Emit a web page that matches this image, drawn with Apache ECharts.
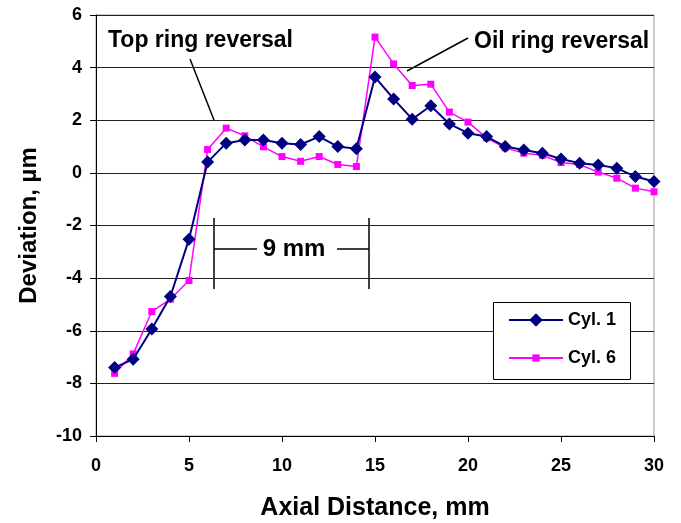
<!DOCTYPE html>
<html>
<head>
<meta charset="utf-8">
<script src="https://cdn.jsdelivr.net/npm/echarts@6/dist/echarts.min.js"></script>
<style>html,body{margin:0;padding:0;background:#fff;}#c{width:681px;height:523px;}</style>
</head>
<body>
<div id="c"></div>
<script>
var distance = [1,2,3,4,5,6,7,8,9,10,11,12,13,14,15,16,17,18,19,20,21,22,23,24,25,26,27,28,29,30];
var cyl1 = [-7.40,-7.08,-5.93,-4.70,-2.52,0.41,1.13,1.25,1.25,1.13,1.08,1.38,1.00,0.92,3.64,2.81,2.04,2.55,1.86,1.51,1.38,1.00,0.87,0.75,0.53,0.37,0.30,0.18,-0.14,-0.33];
var cyl6 = [-7.62,-6.88,-5.27,-4.80,-4.09,0.89,1.70,1.41,0.99,0.62,0.44,0.62,0.32,0.24,5.16,4.14,3.32,3.37,2.31,1.93,1.33,0.95,0.75,0.67,0.39,0.32,0.03,-0.20,-0.58,-0.72];
var seriesNames = ['Cyl. 1','Cyl. 6'];
var xTitle = 'Axial Distance, mm';
var yTitle = 'Deviation, \u00b5m';

var font = '"Liberation Sans", Arial, sans-serif';
function pairs(ys){ return distance.map(function(x,i){ return [x, ys[i]]; }); }
var legendText = {fontFamily:font, fontWeight:'bold', fontSize:18, color:'#000'};

var chart = echarts.init(document.getElementById('c'), null, {renderer:'canvas'});
chart.setOption({
  animation:false,
  backgroundColor:'#fff',
  grid:{left:96, right:27, top:15, bottom:87, show:true, borderColor:'#999', borderWidth:1,
        containLabel:false, outerBoundsMode:'none'},
  xAxis:{
    type:'value', min:0, max:30, interval:5,
    name:xTitle, nameLocation:'middle', nameGap:60,
    nameTextStyle:{fontFamily:font, fontWeight:'bold', fontSize:25, color:'#000'},
    axisLine:{show:true, onZero:false, lineStyle:{color:'#000', width:1}},
    axisTick:{show:true, inside:false, length:6, lineStyle:{color:'#000'}},
    axisLabel:{fontFamily:font, fontWeight:'bold', fontSize:18, color:'#000', margin:21},
    splitLine:{show:false}
  },
  yAxis:{
    type:'value', min:-10, max:6, interval:2,
    name:yTitle, nameLocation:'middle', nameGap:55, nameRotate:90,
    nameTextStyle:{fontFamily:font, fontWeight:'bold', fontSize:24, color:'#000'},
    axisLine:{show:true, lineStyle:{color:'#000', width:1}},
    axisTick:{show:true, inside:false, length:6, lineStyle:{color:'#000'}},
    axisLabel:{fontFamily:font, fontWeight:'bold', fontSize:18, color:'#000', margin:14},
    splitLine:{show:true, lineStyle:{color:'#222', width:1}}
  },
  legend:[
    {show:true, left:508, top:311, padding:0, itemWidth:54, itemHeight:17, itemGap:5,
     textStyle:legendText, data:[seriesNames[0]], z:6},
    {show:true, left:508, top:349, padding:0, itemWidth:54, itemHeight:9, itemGap:5,
     textStyle:legendText, data:[seriesNames[1]], z:6}
  ],
  series:[
    {name:seriesNames[0], type:'line', data:pairs(cyl1), symbol:'diamond', symbolSize:13,
     itemStyle:{color:'#000080'}, lineStyle:{color:'#000080', width:2}, z:3},
    {name:seriesNames[1], type:'line', data:pairs(cyl6), symbol:'rect', symbolSize:7,
     itemStyle:{color:'#ff00ff'}, lineStyle:{color:'#ff00ff', width:1.5}, z:2}
  ],
  graphic:[
    {type:'rect', z:4, shape:{x:493.5, y:302.5, width:137, height:77}, style:{fill:'#fff', stroke:'#000', lineWidth:1}},
    {type:'text', x:108, y:41, style:{text:'Top ring reversal', font:'bold 23px '+font, fill:'#000', verticalAlign:'middle'}},
    {type:'line', shape:{x1:190, y1:59, x2:214, y2:120}, style:{stroke:'#000', lineWidth:1.5}},
    {type:'text', x:474, y:42, style:{text:'Oil ring reversal', font:'bold 23px '+font, fill:'#000', verticalAlign:'middle'}},
    {type:'line', shape:{x1:468, y1:38, x2:407, y2:71}, style:{stroke:'#000', lineWidth:1.5}},
    {type:'line', shape:{x1:214, y1:218, x2:214, y2:289}, style:{stroke:'#000', lineWidth:1.5}},
    {type:'line', shape:{x1:369, y1:218, x2:369, y2:289}, style:{stroke:'#000', lineWidth:1.5}},
    {type:'line', shape:{x1:214, y1:249, x2:257, y2:249}, style:{stroke:'#000', lineWidth:1.5}},
    {type:'line', shape:{x1:337, y1:249, x2:369, y2:249}, style:{stroke:'#000', lineWidth:1.5}},
    {type:'text', x:294, y:249, style:{text:'9 mm', font:'bold 24px '+font, fill:'#000', align:'center', verticalAlign:'middle'}}
  ]
});
</script>
</body>
</html>
